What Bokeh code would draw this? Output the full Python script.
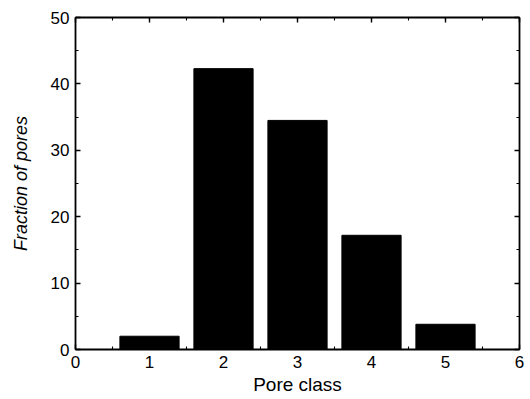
from bokeh.plotting import figure
from bokeh.models import LinearAxis, Range1d, FixedTicker, ColumnDataSource
from bokeh.embed import file_html
from bokeh.resources import INLINE

pore_class = [1, 2, 3, 4, 5]
fraction = [2.0, 42.3, 34.5, 17.2, 3.8]
x_ticks = [0, 1, 2, 3, 4, 5, 6]
y_ticks = [0, 10, 20, 30, 40, 50]

src = ColumnDataSource(dict(x=pore_class, top=fraction))

p = figure(width=530, height=399, output_backend="svg", toolbar_location=None,
           x_range=Range1d(0, 6), y_range=Range1d(0, 50),
           x_axis_location=None, y_axis_location=None,
           min_border_left=75, min_border_right=11, min_border_top=17, min_border_bottom=50)
p.grid.visible = False
p.outline_line_color = None
p.background_fill_color = "white"
p.border_fill_color = "white"

p.vbar(x="x", top="top", width=0.8, bottom=0, source=src,
       fill_color="black", line_color="black")

FONT = "Liberation Sans"

def style(ax, labels=True):
    ax.axis_line_width = 1.8
    ax.axis_line_color = "black"
    ax.major_tick_in = 5
    ax.major_tick_out = 0
    ax.minor_tick_in = 3
    ax.minor_tick_out = 0
    ax.major_tick_line_width = 1.4
    ax.minor_tick_line_width = 1.1
    ax.major_tick_line_color = "black"
    ax.minor_tick_line_color = "black"
    ax.major_label_text_font = FONT
    ax.major_label_text_font_size = "17px"
    ax.major_label_text_color = "black" if labels else None
    ax.axis_label_text_font = FONT
    ax.axis_label_text_font_size = "19px"
    ax.axis_label_text_color = "black"

xt = FixedTicker(ticks=x_ticks, minor_ticks=[i * 0.5 for i in range(13)])
yt = FixedTicker(ticks=y_ticks, minor_ticks=[i * 5 for i in range(11)])

bx = LinearAxis(ticker=xt, axis_label="Pore class")
style(bx)
bx.major_label_standoff = 6
bx.axis_label_standoff = 3
bx.axis_label_text_font_style = "normal"
p.add_layout(bx, "below")

ly = LinearAxis(ticker=yt, axis_label="Fraction of pores")
style(ly)
ly.major_label_standoff = 6
ly.axis_label_standoff = 17
ly.axis_label_text_font_size = "18px"
ly.axis_label_text_font_style = "italic"
p.add_layout(ly, "left")

tx = LinearAxis(ticker=xt)
style(tx, labels=False)
tx.major_label_text_font_size = "0px"
p.add_layout(tx, "above")

ry = LinearAxis(ticker=yt)
style(ry, labels=False)
ry.major_label_text_font_size = "0px"
p.add_layout(ry, "right")

open("out.html", "w").write(file_html(p, INLINE))
